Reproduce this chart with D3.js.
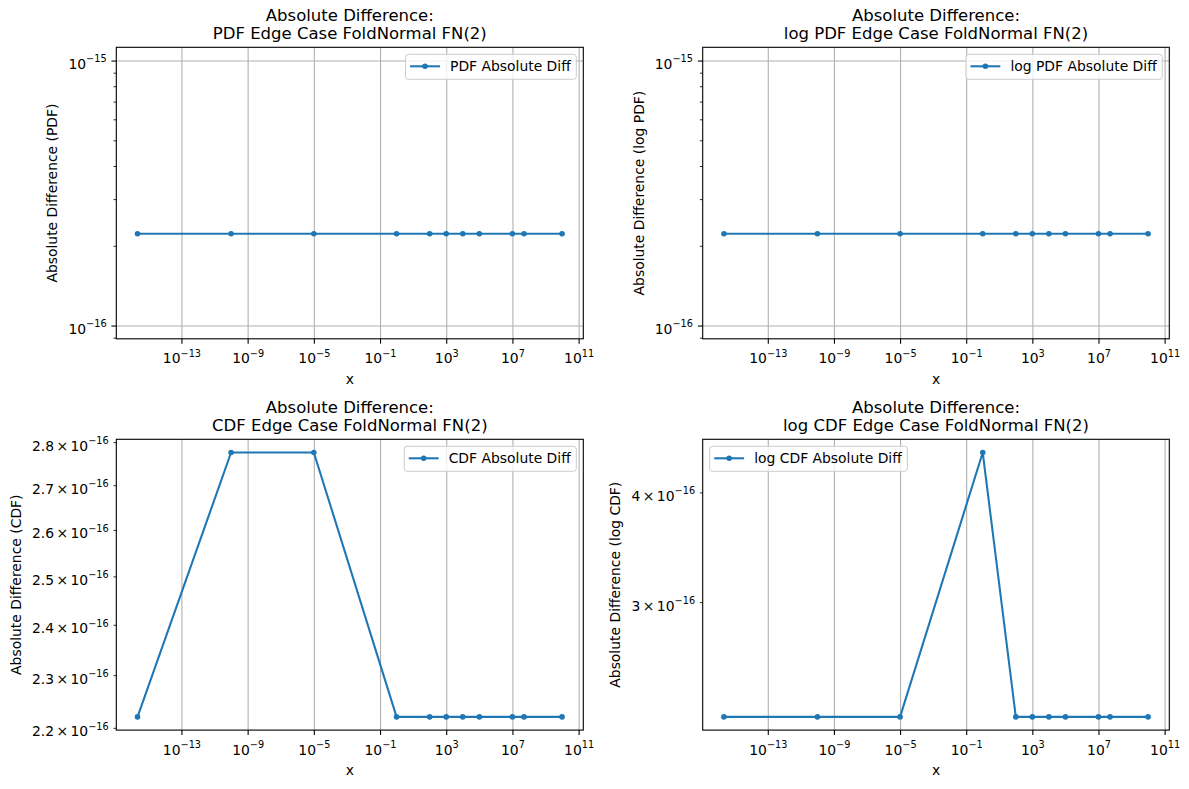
<!DOCTYPE html>
<html><head><meta charset="utf-8">
<script src="https://cdn.jsdelivr.net/npm/d3@7"></script>
<style>
body{margin:0;background:#fff;}
svg{display:block;font-family:"DejaVu Sans",sans-serif;}
</style></head><body>
<svg id="chart" width="1189" height="789"></svg>
<script>
// ---------- data ----------
const xValues    = [2.220446e-16, 1e-10, 1e-5, 1, 1e2, 1e3, 1e4, 1e5, 1e7, 5e7, 1e10];
const pdfDiff    = [2.220446e-16, 2.220446e-16, 2.220446e-16, 2.220446e-16, 2.220446e-16, 2.220446e-16, 2.220446e-16, 2.220446e-16, 2.220446e-16, 2.220446e-16, 2.220446e-16];
const logPdfDiff = [2.220446e-16, 2.220446e-16, 2.220446e-16, 2.220446e-16, 2.220446e-16, 2.220446e-16, 2.220446e-16, 2.220446e-16, 2.220446e-16, 2.220446e-16, 2.220446e-16];
const cdfDiff    = [2.220446e-16, 2.775558e-16, 2.775558e-16, 2.220446e-16, 2.220446e-16, 2.220446e-16, 2.220446e-16, 2.220446e-16, 2.220446e-16, 2.220446e-16, 2.220446e-16];
const logCdfDiff = [2.220446e-16, 2.220446e-16, 2.220446e-16, 4.440892e-16, 2.220446e-16, 2.220446e-16, 2.220446e-16, 2.220446e-16, 2.220446e-16, 2.220446e-16, 2.220446e-16];

const xTicks        = [1e-13, 1e-9, 1e-5, 1e-1, 1e3, 1e7, 1e11];
const yMajorTop     = [1e-16, 1e-15];
const yMinorTop     = [9e-17, 2e-16, 3e-16, 4e-16, 5e-16, 6e-16, 7e-16, 8e-16, 9e-16];
const yMinorCdf     = [2.2e-16, 2.3e-16, 2.4e-16, 2.5e-16, 2.6e-16, 2.7e-16, 2.8e-16];
const yMinorLogCdf  = [3e-16, 4e-16];

const titles  = ["Absolute Difference:|PDF Edge Case FoldNormal FN(2)",
                 "Absolute Difference:|log PDF Edge Case FoldNormal FN(2)",
                 "Absolute Difference:|CDF Edge Case FoldNormal FN(2)",
                 "Absolute Difference:|log CDF Edge Case FoldNormal FN(2)"];
const yLabels = ["Absolute Difference (PDF)", "Absolute Difference (log PDF)",
                 "Absolute Difference (CDF)", "Absolute Difference (log CDF)"];
const legendLabels = ["PDF Absolute Diff", "log PDF Absolute Diff", "CDF Absolute Diff", "log CDF Absolute Diff"];
const xLabel = "x";

// ---------- layout ----------
const FS = 13.9, SUP = 9.73, TFS = 16.5;
const BLUE = "#1f77b4";
const panels = [
  {left:116.3, top:47.3,  w:467, h:291.5, values:pdfDiff,    major:yMajorTop, minor:yMinorTop,    minorLabels:false, legend:"right"},
  {left:702.7, top:47.3,  w:466.6, h:291.5, values:logPdfDiff, major:yMajorTop, minor:yMinorTop,  minorLabels:false, legend:"right"},
  {left:116.3, top:439.3, w:467, h:290.8, values:cdfDiff,    major:[],        minor:yMinorCdf,    minorLabels:true,  legend:"right"},
  {left:702.7, top:439.3, w:466.6, h:290.8, values:logCdfDiff, major:[],      minor:yMinorLogCdf, minorLabels:true,  legend:"left"}
];

const svg = d3.select("#chart");

function padLog([a,b], m=0.05){
  const la=Math.log10(a), lb=Math.log10(b), d=(lb-la)*m;
  return [Math.pow(10,la-d), Math.pow(10,lb+d)];
}
function writeLabel(t, v){
  const e = Math.floor(Math.log10(v)+1e-9);
  let m = Math.round(v/Math.pow(10,e)*10)/10;
  t.text(null);
  if (Math.abs(m-1) > 1e-9){
    t.append("tspan").text(String(m));
    t.append("tspan").attr("dx",2.4).text("\u00d7");
    t.append("tspan").attr("dx",2.4).text("10");
  } else {
    t.append("tspan").text("10");
  }
  t.append("tspan").attr("dy",-6.6).attr("font-size",SUP).text((e<0?"\u2212":"")+Math.abs(e));
}

panels.forEach((p,i)=>{
  const g = svg.append("g");
  const bottom = p.top+p.h, right = p.left+p.w;
  const x = d3.scaleLog().domain(padLog(d3.extent(xValues))).range([p.left, right]);
  const ext = d3.extent(p.values);
  const yd = ext[0]===ext[1]
    ? [Math.pow(10,Math.floor(Math.log10(ext[0]))), Math.pow(10,Math.ceil(Math.log10(ext[0])))]
    : ext;
  const y = d3.scaleLog().domain(padLog(yd)).range([bottom, p.top]);
  const inX = v => v>=x.domain()[0] && v<=x.domain()[1];
  const inY = v => v>=y.domain()[0] && v<=y.domain()[1];
  const xt = xTicks.filter(inX);

  // grid
  const gx = g.append("g").attr("transform",`translate(0,${bottom})`)
    .call(d3.axisBottom(x).tickValues(xt).tickSize(-p.h).tickSizeOuter(0).tickFormat(""));
  gx.select(".domain").remove();
  gx.selectAll("line").attr("stroke","#b0b0b0").attr("stroke-width",1.1);
  if (p.major.length){
    const gy = g.append("g").attr("transform",`translate(${p.left},0)`)
      .call(d3.axisLeft(y).tickValues(p.major.filter(inY)).tickSize(-p.w).tickSizeOuter(0).tickFormat(""));
    gy.select(".domain").remove();
    gy.selectAll("line").attr("stroke","#b0b0b0").attr("stroke-width",1.1);
  }

  // data
  const pts = xValues.map((xv,k)=>[xv, p.values[k]]);
  g.append("path").datum(pts)
    .attr("d", d3.line().x(d=>x(d[0])).y(d=>y(d[1])))
    .attr("fill","none").attr("stroke",BLUE).attr("stroke-width",2.08)
    .attr("stroke-linejoin","round").attr("stroke-linecap","square");
  g.selectAll("circle.pt").data(pts).join("circle").attr("class","pt")
    .attr("cx",d=>x(d[0])).attr("cy",d=>y(d[1])).attr("r",2.1)
    .attr("fill",BLUE).attr("stroke",BLUE).attr("stroke-width",1.39);

  // spines
  g.append("rect").attr("x",p.left).attr("y",p.top).attr("width",p.w).attr("height",p.h)
    .attr("fill","none").attr("stroke","#000").attr("stroke-width",1.1);

  // x axis
  const ax = g.append("g").attr("transform",`translate(0,${bottom})`)
    .call(d3.axisBottom(x).tickValues(xt).tickSize(4.86).tickSizeOuter(0).tickPadding(4.86));
  ax.select(".domain").remove();
  ax.attr("font-size",FS).attr("font-family","DejaVu Sans");
  ax.selectAll("line").attr("stroke-width",1.1);
  ax.selectAll(".tick text").attr("y",24.5).attr("dy",null).attr("fill","#000")
    .each(function(d){ writeLabel(d3.select(this), d); });

  // y axis
  const tickLabelNodes = [];
  if (p.major.length){
    const ay = g.append("g").attr("transform",`translate(${p.left},0)`)
      .call(d3.axisLeft(y).tickValues(p.major.filter(inY)).tickSize(4.86).tickSizeOuter(0).tickPadding(4.86));
    ay.select(".domain").remove();
    ay.attr("font-size",FS).attr("font-family","DejaVu Sans");
    ay.selectAll("line").attr("stroke-width",1.1);
    ay.selectAll(".tick text").attr("y",8).attr("dy",null).attr("fill","#000")
      .each(function(d){ writeLabel(d3.select(this), d); tickLabelNodes.push(this); });
  }
  const am = g.append("g").attr("transform",`translate(${p.left},0)`)
    .call(d3.axisLeft(y).tickValues(p.minor.filter(inY)).tickSize(2.78).tickSizeOuter(0).tickPadding(4.86));
  am.select(".domain").remove();
  am.attr("font-size",FS).attr("font-family","DejaVu Sans");
  am.selectAll("line").attr("stroke-width",0.83);
  am.selectAll(".tick text").attr("y",8).attr("dy",null).attr("fill","#000")
    .each(function(d){
      if (p.minorLabels){ writeLabel(d3.select(this), d); tickLabelNodes.push(this); }
      else d3.select(this).text(null);
    });

  // y label
  let minL = p.left - 10;
  tickLabelNodes.forEach(n=>{ const b=n.getBBox(); minL = Math.min(minL, p.left + b.x); });
  const ly = minL - 11.2, cy = p.top + p.h/2;
  g.append("text").attr("transform",`translate(${ly},${cy}) rotate(-90)`)
    .attr("text-anchor","middle").attr("font-size",FS).text(yLabels[i]);

  // x label
  g.append("text").attr("x",p.left+p.w/2).attr("y",bottom+45.3)
    .attr("text-anchor","middle").attr("font-size",FS).text(xLabel);

  // title
  const tl = titles[i].split("|");
  const tt = g.append("text").attr("text-anchor","middle").attr("font-size",TFS);
  tt.append("tspan").attr("x",p.left+p.w/2).attr("y",p.top-26.5).text(tl[0]);
  tt.append("tspan").attr("x",p.left+p.w/2).attr("y",p.top-8.7).text(tl[1]);

  // legend
  const lg = g.append("g");
  const txt = lg.append("text").attr("font-size",FS).text(legendLabels[i]);
  const tw = txt.node().getComputedTextLength();
  const bw = 5.56 + 27.8 + 11.1 + tw + 5.56, bh = 25;
  const bx = p.legend==="right" ? right - 7 - bw : p.left + 7;
  const by = p.top + 7;
  lg.insert("rect","text").attr("x",bx).attr("y",by).attr("width",bw).attr("height",bh)
    .attr("rx",2.8).attr("fill","#fff").attr("fill-opacity",0.8)
    .attr("stroke","#cccccc").attr("stroke-width",1);
  lg.insert("line","text").attr("x1",bx+5.56).attr("x2",bx+5.56+27.8).attr("y1",by+12).attr("y2",by+12)
    .attr("stroke",BLUE).attr("stroke-width",2.08).attr("stroke-linecap","square");
  lg.insert("circle","text").attr("cx",bx+5.56+13.9).attr("cy",by+12).attr("r",2.1)
    .attr("fill",BLUE).attr("stroke",BLUE).attr("stroke-width",1.39);
  txt.attr("x",bx+5.56+27.8+11.1).attr("y",by+17);
});
</script>
</body></html>
